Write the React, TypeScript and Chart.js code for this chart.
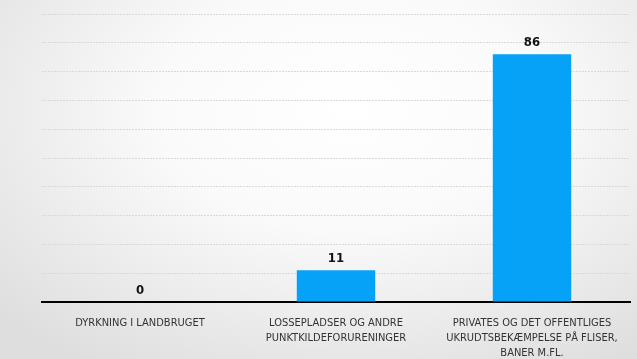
import React, { useEffect, useRef } from "react";
import { Chart, registerables } from "chart.js";

Chart.register(...registerables);

const categories: string[][] = [
  ["DYRKNING I LANDBRUGET"],
  ["LOSSEPLADSER OG ANDRE", "PUNKTKILDEFORURENINGER"],
  ["PRIVATES OG DET OFFENTLIGES", "UKRUDTSBEKÆMPELSE PÅ FLISER,", "BANER M.FL."],
];
const values: number[] = [0, 11, 86];
const yMin = 0;
const yMax = 100;
const yStep = 10;

const FONT = "'Liberation Sans Narrow', 'DejaVu Sans Condensed', 'Open Sans', sans-serif";

const valueLabels = {
  id: "valueLabels",
  afterDatasetsDraw(chart: any) {
    const ctx = chart.ctx;
    const meta = chart.getDatasetMeta(0);
    ctx.save();
    ctx.font = `bold 13px ${FONT}`;
    ctx.fillStyle = "#111111";
    ctx.textAlign = "center";
    ctx.textBaseline = "bottom";
    meta.data.forEach((el: any, i: number) => {
      ctx.fillText(String(values[i]), el.x, el.y - 5);
    });
    ctx.restore();
  },
};

export default function App() {
  const ref = useRef<HTMLCanvasElement>(null);
  useEffect(() => {
    const chart = new Chart(ref.current!, {
      type: "bar",
      data: {
        labels: categories,
        datasets: [
          {
            data: values,
            backgroundColor: "#06A2F8",
            barPercentage: 0.4,
            categoryPercentage: 1,
          },
        ],
      },
      options: {
        responsive: false,
        animation: false,
        layout: { padding: { left: 42, right: 7, top: 14, bottom: 0 } },
        plugins: { legend: { display: false }, tooltip: { enabled: false } },
        scales: {
          x: {
            grid: { display: false },
            border: { display: true, color: "#000000", width: 2 },
            afterFit(scale: any) {
              scale.height = 57;
            },
            ticks: {
              maxRotation: 0,
              autoSkip: false,
              padding: 6,
              color: "#333333",
              font: { family: FONT, size: 11, lineHeight: 1.35 },
            },
          },
          y: {
            min: yMin,
            max: yMax,
            ticks: { display: false, stepSize: yStep },
            border: { display: false, dash: [2, 1] },
            grid: { color: "#d9d9d9", lineWidth: 1, drawTicks: false },
          },
        },
      },
      plugins: [valueLabels],
    });
    return () => chart.destroy();
  }, []);
  return (
    <div
      style={{
        position: "fixed",
        left: 0,
        top: 0,
        width: 637,
        height: 359,
        background: "radial-gradient(ellipse 75% 85% at 55% 30%, #ffffff 0%, #fafafa 40%, #dedede 100%)",
      }}
    >
      <canvas ref={ref} width={637} height={359} style={{ display: "block" }} />
    </div>
  );
}
